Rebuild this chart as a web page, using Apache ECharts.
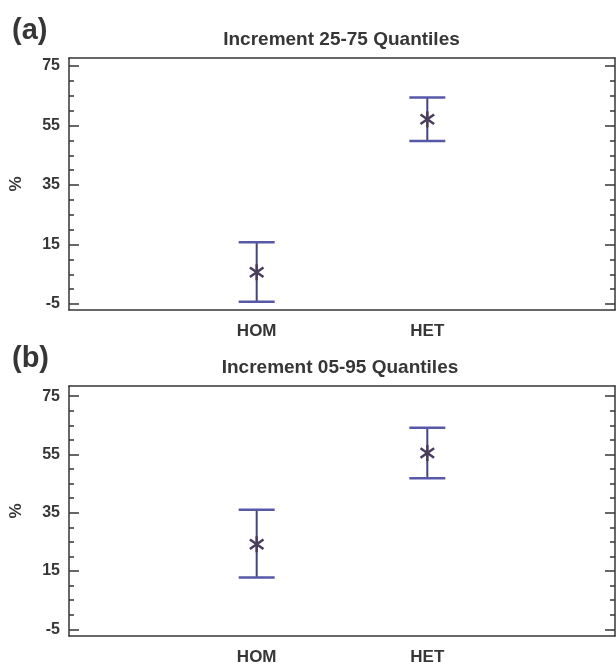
<!DOCTYPE html>
<html>
<head>
<meta charset="utf-8">
<script src="https://cdn.jsdelivr.net/npm/echarts@6/dist/echarts.min.js"></script>
<style>
  html, body { margin: 0; padding: 0; background: #ffffff; }
  #chart { width: 616px; height: 666px; }
</style>
</head>
<body>
<div id="chart"></div>
<script>
// Categories on the x axis and where they sit
const categories = ['HOM', 'HET'];
const categoryX = [1, 2];

// Panel (a): increment of the 25-75 quantiles (%)
const incA_low  = [-4.2, 49.8];
const incA_mid  = [5.7, 57.1];
const incA_high = [15.8, 64.4];

// Panel (b): increment of the 05-95 quantiles (%)
const incB_low  = [12.8, 46.8];
const incB_mid  = [24.2, 55.5];
const incB_high = [36.0, 64.2];

// Axis ticks
const yMajorTicks = [-5, 15, 35, 55, 75];
const yMinorTicks = [0, 5, 10, 20, 25, 30, 40, 45, 50, 60, 65, 70];

const panelTitles = ['Increment 25-75 Quantiles', 'Increment 05-95 Quantiles'];
const panelTags = ['(a)', '(b)'];

const FONT = '"Liberation Sans", Arial, Helvetica, sans-serif';
const INK = '#363636';
const CAP_COLOR = '#5659a8';
const STEM_COLOR = '#434578';
const STAR_COLOR = '#4a3d5c';

const grids = [
  { left: 68, top: 58, width: 547, height: 252 },
  { left: 65, top: 386, width: 550, height: 254 }
];
const yRanges = [[-7, 77.7], [-7.3, 78.5]];

const xAxes = [];
const yAxes = [];
const series = [];

function errorBarItem(params, api) {
  const x = api.value(0);
  const pLow = api.coord([x, api.value(1)]);
  const pMid = api.coord([x, api.value(2)]);
  const pHigh = api.coord([x, api.value(3)]);
  const cap = 18;
  const r = 8;
  const children = [
    { type: 'line', shape: { x1: pLow[0], y1: pLow[1], x2: pHigh[0], y2: pHigh[1] },
      style: { stroke: STEM_COLOR, lineWidth: 2 } },
    { type: 'line', shape: { x1: pHigh[0] - cap, y1: pHigh[1], x2: pHigh[0] + cap, y2: pHigh[1] },
      style: { stroke: CAP_COLOR, lineWidth: 2.5 } },
    { type: 'line', shape: { x1: pLow[0] - cap, y1: pLow[1], x2: pLow[0] + cap, y2: pLow[1] },
      style: { stroke: CAP_COLOR, lineWidth: 2.5 } },
    // asterisk at the central value
    { type: 'line', shape: { x1: pMid[0], y1: pMid[1] - r, x2: pMid[0], y2: pMid[1] + r },
      style: { stroke: STAR_COLOR, lineWidth: 2.5 } },
    { type: 'line', shape: { x1: pMid[0] - r * 0.85, y1: pMid[1] - r * 0.6, x2: pMid[0] + r * 0.85, y2: pMid[1] + r * 0.6 },
      style: { stroke: STAR_COLOR, lineWidth: 2.5 } },
    { type: 'line', shape: { x1: pMid[0] - r * 0.85, y1: pMid[1] + r * 0.6, x2: pMid[0] + r * 0.85, y2: pMid[1] - r * 0.6 },
      style: { stroke: STAR_COLOR, lineWidth: 2.5 } }
  ];
  return { type: 'group', children: children };
}

const panels = [
  { low: incA_low, mid: incA_mid, high: incA_high },
  { low: incB_low, mid: incB_mid, high: incB_high }
];

panels.forEach(function (p, i) {
  const xBase = xAxes.length;
  const yBase = yAxes.length;
  const axisLine = { show: true, onZero: false, lineStyle: { color: INK, width: 1.5 } };
  const noLine = { show: false, onZero: false };
  const tickStyle = { color: INK, width: 1.5 };

  // bottom axis with category labels
  xAxes.push({
    type: 'value', gridIndex: i, min: -0.1, max: 3.1, position: 'bottom',
    axisLine: axisLine, axisTick: { show: false }, splitLine: { show: false },
    axisLabel: {
      customValues: categoryX, margin: 13,
      formatter: function (v) { return categories[categoryX.indexOf(v)] || ''; },
      color: INK, fontSize: 17, fontWeight: 'bold', fontFamily: FONT
    }
  });
  // top frame line
  xAxes.push({
    type: 'value', gridIndex: i, min: -0.1, max: 3.1, position: 'top',
    axisLine: axisLine, axisTick: { show: false }, axisLabel: { show: false }, splitLine: { show: false }
  });

  const yr = yRanges[i];
  // left axis: labels and major ticks
  yAxes.push({
    type: 'value', gridIndex: i, min: yr[0], max: yr[1], position: 'left',
    name: '%', nameLocation: 'middle', nameGap: 44, nameRotate: 90,
    nameTextStyle: { color: INK, fontSize: 17, fontWeight: 'bold', fontFamily: FONT },
    axisLine: axisLine, splitLine: { show: false },
    axisTick: { show: true, inside: true, length: 10, customValues: yMajorTicks, lineStyle: tickStyle },
    axisLabel: { customValues: yMajorTicks, margin: 9, color: INK, fontSize: 16, fontWeight: 'bold', fontFamily: FONT }
  });
  // left axis: minor ticks
  yAxes.push({
    type: 'value', gridIndex: i, min: yr[0], max: yr[1], position: 'left',
    axisLine: noLine, splitLine: { show: false }, axisLabel: { show: false },
    axisTick: { show: true, inside: true, length: 5, customValues: yMinorTicks, lineStyle: tickStyle }
  });
  // right frame with major ticks
  yAxes.push({
    type: 'value', gridIndex: i, min: yr[0], max: yr[1], position: 'right',
    axisLine: axisLine, splitLine: { show: false }, axisLabel: { show: false },
    axisTick: { show: true, inside: true, length: 10, customValues: yMajorTicks, lineStyle: tickStyle }
  });
  // right frame minor ticks
  yAxes.push({
    type: 'value', gridIndex: i, min: yr[0], max: yr[1], position: 'right',
    axisLine: noLine, splitLine: { show: false }, axisLabel: { show: false },
    axisTick: { show: true, inside: true, length: 5, customValues: yMinorTicks, lineStyle: tickStyle }
  });

  series.push({
    type: 'custom',
    xAxisIndex: xBase,
    yAxisIndex: yBase,
    renderItem: errorBarItem,
    encode: { x: 0, y: [1, 2, 3] },
    data: categoryX.map(function (x, k) { return [x, p.low[k], p.mid[k], p.high[k]]; }),
    silent: true,
    animation: false
  });
});

const graphics = [];
panelTitles.forEach(function (t, i) {
  const g = grids[i];
  graphics.push({
    type: 'text', x: g.left + g.width / 2, y: g.top - 18,
    style: { text: t, fill: INK, font: 'bold 19px ' + FONT, textAlign: 'center', textVerticalAlign: 'middle' }
  });
  graphics.push({
    type: 'text', x: 12, y: g.top - 27,
    style: { text: panelTags[i], fill: INK, font: 'bold 29px ' + FONT, textAlign: 'left', textVerticalAlign: 'middle' }
  });
});

const chart = echarts.init(document.getElementById('chart'), null, { renderer: 'canvas' });
chart.setOption({
  backgroundColor: '#ffffff',
  animation: false,
  grid: grids.map(function (g) { return Object.assign({ containLabel: false }, g); }),
  xAxis: xAxes,
  yAxis: yAxes,
  series: series,
  graphic: graphics
});
</script>
</body>
</html>
